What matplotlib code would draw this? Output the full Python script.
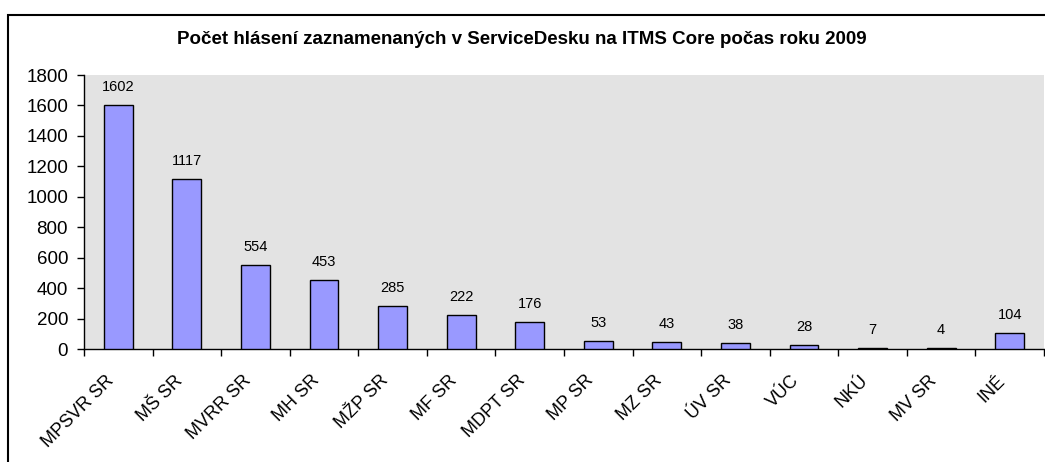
import matplotlib
matplotlib.use("Agg")
import matplotlib.pyplot as plt
from matplotlib.patches import Rectangle
from matplotlib.transforms import ScaledTranslation

categories = ["MPSVR SR", "MŠ SR", "MVRR SR", "MH SR", "MŽP SR", "MF SR", "MDPT SR",
              "MP SR", "MZ SR", "ÚV SR", "VÚC", "NKÚ", "MV SR", "INÉ"]
values = [1602, 1117, 554, 453, 285, 222, 176, 53, 43, 38, 28, 7, 4, 104]
yticks = [0, 200, 400, 600, 800, 1000, 1200, 1400, 1600, 1800]
title = "Počet hlásení zaznamenaných v ServiceDesku na ITMS Core počas roku 2009"

plt.rcParams['font.family'] = ['Liberation Sans', 'DejaVu Sans']

W, H = 1045, 462
fig = plt.figure(figsize=(W/100, H/100), dpi=100)
fig.patch.set_facecolor('white')

# outer frame (extends beyond image on right/bottom)
fig.patches.append(Rectangle((8/W, -0.2), 1.2, (H-15)/H + 0.2, transform=fig.transFigure,
                             fill=False, edgecolor='black', linewidth=1.5, clip_on=False))

left, right, top, bottom = 84, 1044, 75, 349
ax = fig.add_axes([left/W, (H-bottom)/H, (right-left)/W, (bottom-top)/H])
ax.set_facecolor('#e3e3e3')

x = list(range(len(categories)))
bars = ax.bar(x, values, width=0.42, color='#9999ff', edgecolor='black', linewidth=1.0, zorder=3)
for xi, v in zip(x, values):
    ax.annotate(str(v), (xi, v), xytext=(0, 8), textcoords='offset points',
                ha='center', va='bottom', fontsize=10.5)

ax.set_xlim(-0.5, len(categories) - 0.5)
ax.set_ylim(0, 1800)
ax.set_yticks(yticks)
ax.set_yticklabels([str(t) for t in yticks], fontsize=13.5)

ax.set_xticks([i - 0.5 for i in range(len(categories) + 1)])
ax.set_xticklabels([])
ax.set_xticks(x, minor=True)
ax.set_xticklabels(categories, minor=True, rotation=45, ha='right', rotation_mode='anchor', fontsize=13)
ax.tick_params(axis='x', which='minor', length=0, pad=8)
ax.tick_params(axis='x', which='major', length=5, direction='out', width=1)
ax.tick_params(axis='y', length=5, direction='out', width=1, pad=6.5)
off = ScaledTranslation(-13/100, -12/100, fig.dpi_scale_trans)
for lbl in ax.get_xticklabels(minor=True):
    lbl.set_transform(lbl.get_transform() + off)

for s in ['top', 'right']:
    ax.spines[s].set_visible(False)
ax.spines['left'].set_linewidth(1)
ax.spines['bottom'].set_linewidth(1)

fig.text(522/W, (H-40)/H, title, ha='center', va='center', fontsize=13.5, fontweight='bold')

fig.savefig("out.png", dpi=100)
